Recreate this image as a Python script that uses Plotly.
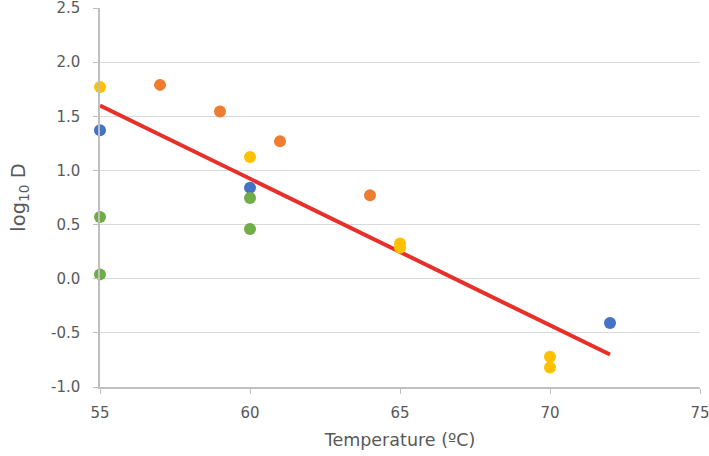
import plotly.graph_objects as go

blue_x = [55, 60, 72]
blue_y = [1.37, 0.84, -0.41]
orange_x = [57, 59, 61, 64]
orange_y = [1.79, 1.545, 1.27, 0.77]
yellow_x = [55, 60, 65, 65, 70, 70]
yellow_y = [1.77, 1.125, 0.325, 0.285, -0.72, -0.82]
green_x = [55, 55, 60, 60]
green_y = [0.57, 0.04, 0.745, 0.46]
trend_x = [55, 72]
trend_y = [1.60, -0.70]

x_ticks = [55, 60, 65, 70, 75]
y_ticks = [-1.0, -0.5, 0.0, 0.5, 1.0, 1.5, 2.0, 2.5]

fig = go.Figure()
fig.add_trace(go.Scatter(x=trend_x, y=trend_y, mode="lines",
                         line=dict(color="#E8302A", width=4), cliponaxis=False))
for xs, ys, c in [(blue_x, blue_y, "#4472C4"), (orange_x, orange_y, "#ED7D31"),
                  (yellow_x, yellow_y, "#FFC000"), (green_x, green_y, "#70AD47")]:
    fig.add_trace(go.Scatter(x=xs, y=ys, mode="markers", cliponaxis=False,
                             marker=dict(color=c, size=12, line=dict(width=0))))

axis_font = dict(family="DejaVu Sans", size=15, color="#595959")
fig.update_layout(
    width=709, height=456,
    margin=dict(l=100, r=9, t=8, b=69),
    plot_bgcolor="white", paper_bgcolor="white",
    showlegend=False,
    font=axis_font,
    xaxis=dict(range=[55, 75], tickvals=x_ticks, ticktext=[str(v) for v in x_ticks],
               showgrid=False, zeroline=False, showline=True, linecolor="#BFBFBF", linewidth=1.5,
               ticks="outside", ticklen=5, tickcolor="#BFBFBF", automargin=False,
               ticklabelstandoff=6, ticklabeloverflow="allow",
               title=dict(text="Temperature (ºC)", font=dict(family="DejaVu Sans", size=17.5, color="#595959"), standoff=13)),
    yaxis=dict(range=[-1.0, 2.5], tickvals=y_ticks, ticktext=[f"{v:.1f}" for v in y_ticks],
               showgrid=True, gridcolor="#D9D9D9", gridwidth=1.2, zeroline=False,
               showline=True, linecolor="#BFBFBF", linewidth=1.5, automargin=False,
               ticks="outside", ticklen=5, tickcolor="#BFBFBF", ticklabelstandoff=10,
               ticklabeloverflow="allow",
               title=dict(text="log<sub>10</sub> D", font=dict(family="DejaVu Sans", size=19.5, color="#595959"), standoff=20)),
)
fig.write_html("out.html", config={"displayModeBar": False},
               post_script="document.body.style.margin='0';")
